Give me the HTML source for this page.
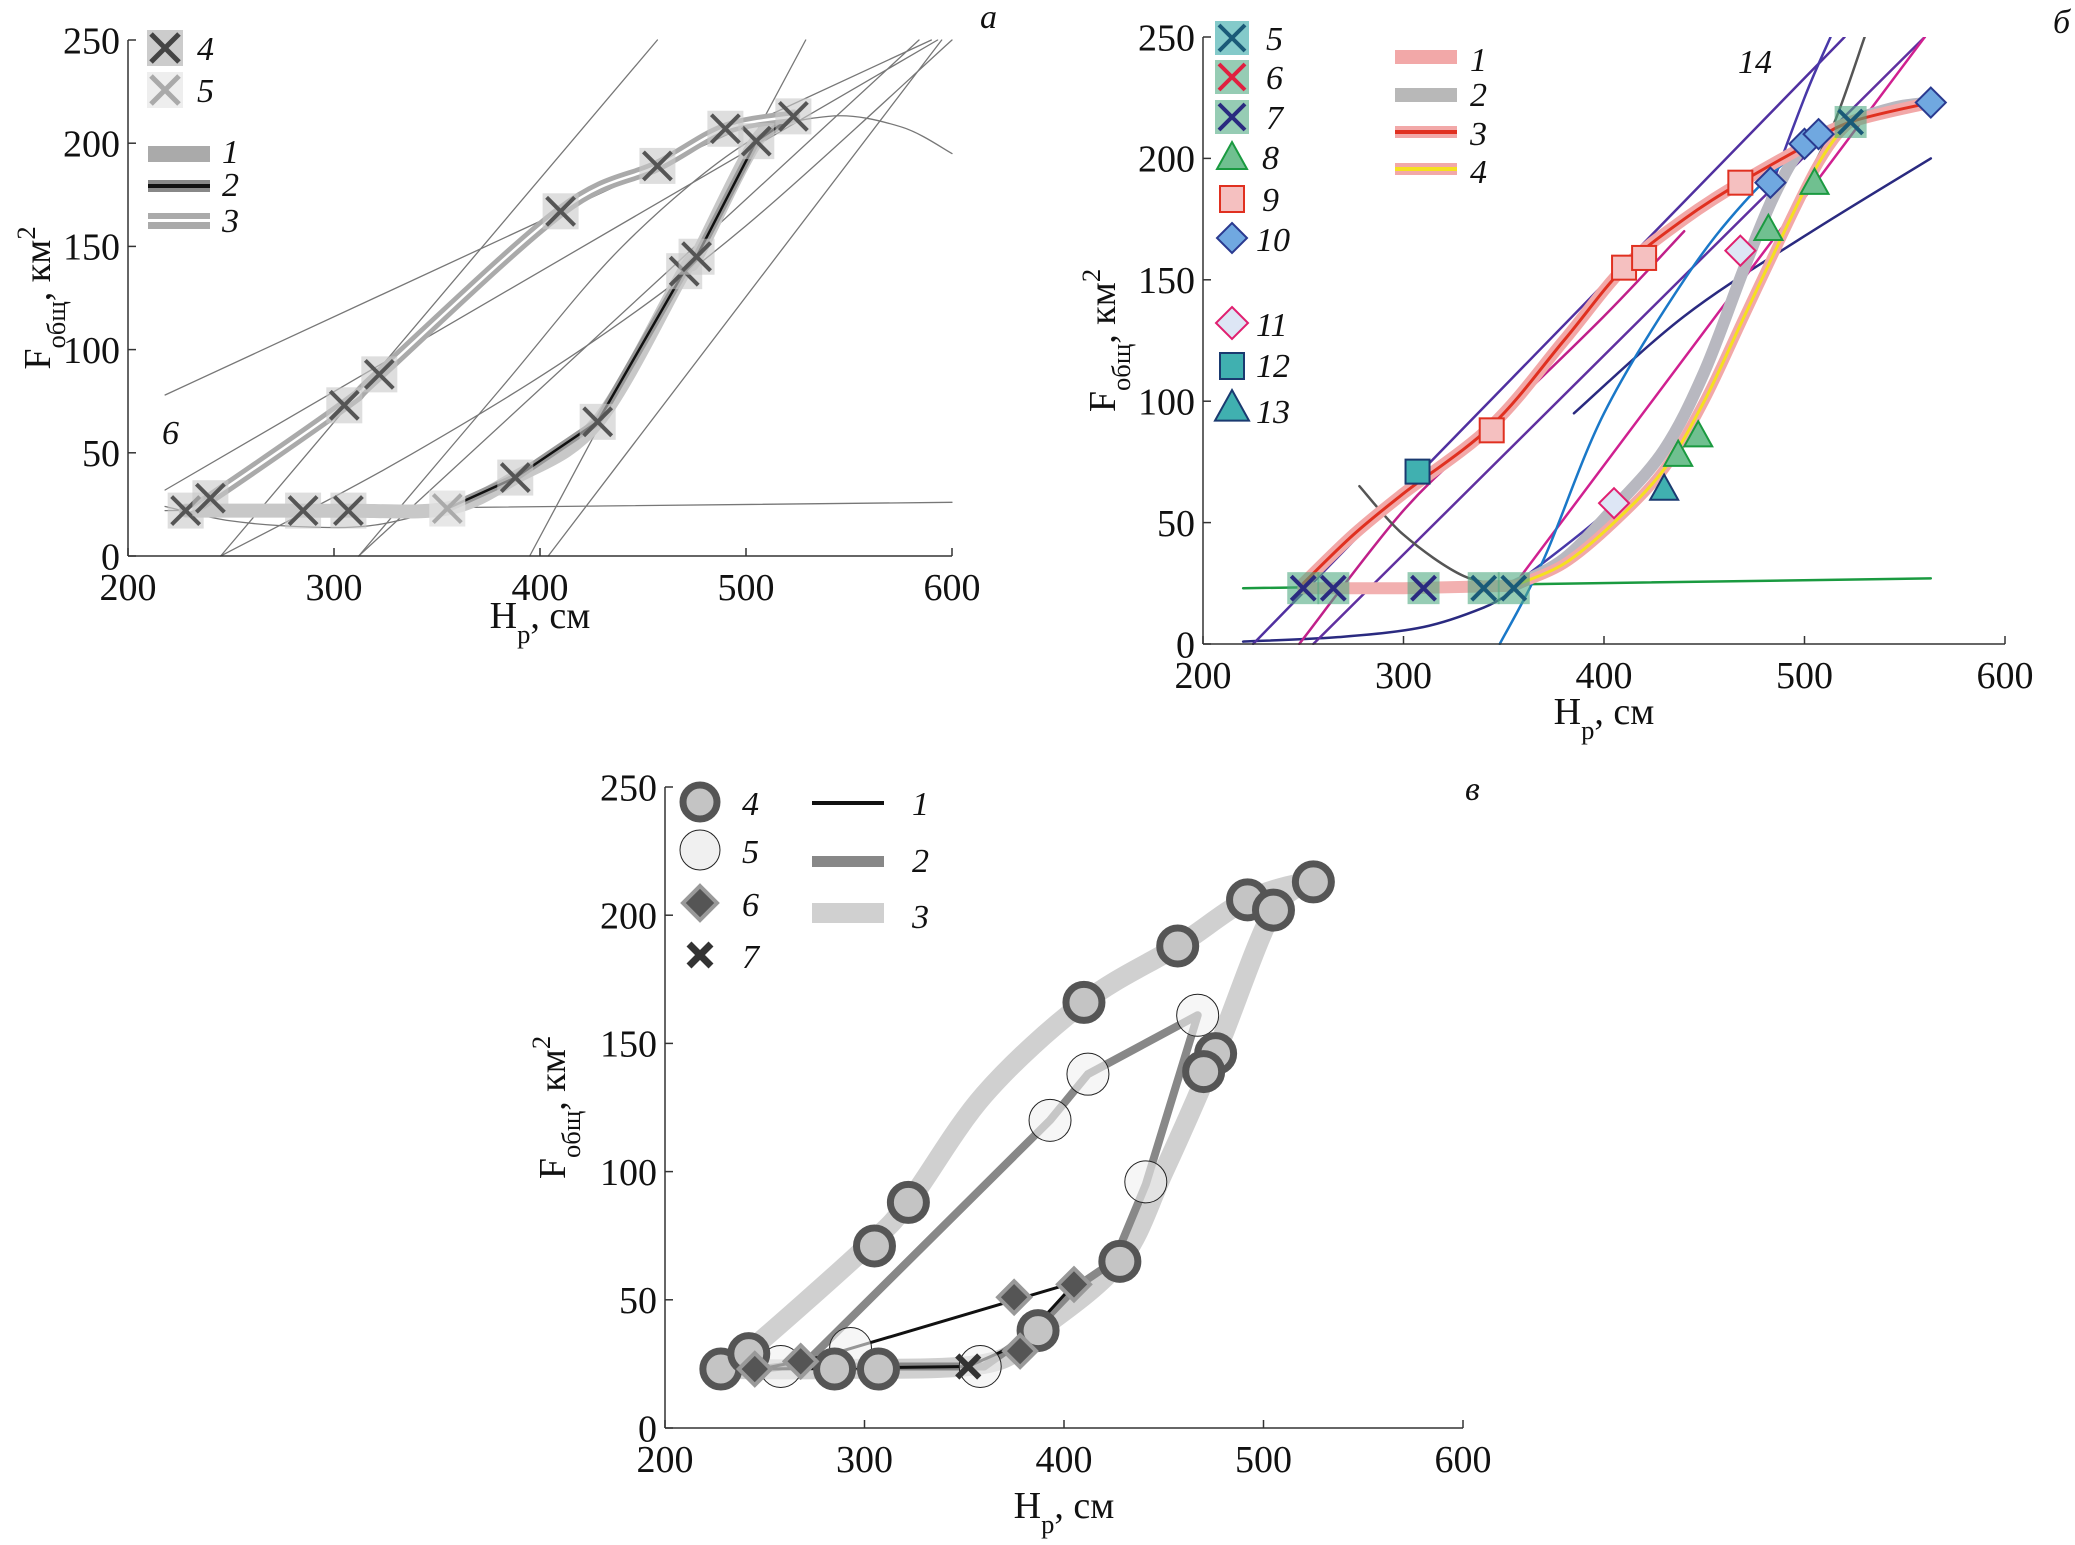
<!DOCTYPE html>
<html><head><meta charset="utf-8">
<style>
html,body{margin:0;padding:0;background:#fff;}
svg{display:block;font-family:"Liberation Serif",serif;}
</style></head>
<body>
<svg id="chart" width="2075" height="1545" viewBox="0 0 2075 1545" xmlns="http://www.w3.org/2000/svg">
<rect width="2075" height="1545" fill="#fff"/>
</svg>
<script>
// ---------- shared tick data ----------
const xTicks = [200, 300, 400, 500, 600];
const yTicks = [0, 50, 100, 150, 200, 250];

// ---------- panel a data ----------
const aUpperH = [228, 240, 305, 322, 410, 457, 490, 523];
const aUpperF = [22, 28, 73, 88, 167, 189, 207, 213];
const aLowerH = [228, 285, 307, 355, 388, 428, 470, 476, 505, 523];
const aLowerF = [22, 22, 22, 23, 38, 65, 138, 145, 201, 213];
const aDarkH = [228, 240, 285, 307, 388, 428, 470, 476, 505, 523, 305, 322, 410, 457, 490];
const aDarkF = [22, 28, 22, 22, 38, 65, 138, 145, 201, 213, 73, 88, 167, 189, 207];
const aLightH = [355];
const aLightF = [23];
const aThin1H = [218, 590]; const aThin1F = [78, 250];
const aThin2H = [218, 593]; const aThin2F = [32, 250];
const aThin3H = [245, 457]; const aThin3F = [0, 250];
const aThin4H = [395, 529]; const aThin4F = [0, 250];
const aThin5H = [404, 595]; const aThin5F = [0, 250];
const aThin6H = [312, 584]; const aThin6F = [0, 250];
const aThin7H = [218, 600]; const aThin7F = [22, 26];
const aParab1H = [218, 250, 290, 320, 355]; const aParab1F = [24, 17, 14, 15, 23];
const aParab2H = [312, 380, 440, 500, 540, 575, 600]; const aParab2F = [0, 80, 150, 200, 213, 208, 195];
const aParab3H = [245, 330, 420, 500, 600]; const aParab3F = [0, 45, 100, 160, 250];

// ---------- panel b data ----------
const bXH = [250, 265, 310, 340, 355, 523];
const bXF = [23, 23, 23, 23, 23, 215];
const bSqH = [344, 410, 420, 468];
const bSqF = [88, 155, 159, 190];
const bSq12H = [307]; const bSq12F = [71];
const bDiaH = [483, 500, 507, 563]; const bDiaF = [190, 206, 210, 223];
const bDia11H = [405, 468]; const bDia11F = [58, 162];
const bTriH = [437, 447, 482, 505]; const bTriF = [78, 86, 171, 190];
const bTri13H = [430]; const bTri13F = [64];
const bC1H = [250, 275, 300, 344, 380, 410, 440, 468, 500, 523, 563];
const bC1F = [25, 45, 62, 90, 125, 155, 175, 190, 205, 215, 223];
const bFlatH = [250, 300, 355]; const bFlatF = [23, 23, 24];
const bC2H = [355, 380, 405, 430, 450, 470, 485, 500, 523, 545, 563];
const bC2F = [24, 35, 56, 80, 112, 155, 185, 205, 215, 221, 223];
const bC4H = [355, 380, 405, 430, 450, 470, 490, 505, 515, 523];
const bC4F = [24, 33, 50, 72, 100, 135, 170, 195, 208, 215];
const bGreenH = [220, 563]; const bGreenF = [23, 27];
const bNavyH = [220, 270, 310, 340, 355]; const bNavyF = [1, 3, 7, 15, 22];
const bNavy2H = [385, 440, 500, 563]; const bNavy2F = [95, 135, 168, 200];
const bPurp1H = [225, 520]; const bPurp1F = [0, 250];
const bPurp2H = [355, 420, 460, 480, 500, 513]; const bPurp2F = [24, 70, 130, 180, 225, 250];
const bMag1H = [248, 300, 344, 400, 440]; const bMag1F = [0, 55, 90, 135, 170];
const bMag2H = [255, 560]; const bMag2F = [0, 250];
const bMag3H = [355, 560]; const bMag3F = [24, 250];
const bBlueH = [348, 370, 400, 440, 470, 500, 523]; const bBlueF = [0, 35, 95, 150, 182, 205, 215];
const bGrayH = [278, 300, 330, 355]; const bGrayF = [65, 45, 28, 24];
const bGray2H = [500, 515, 530]; const bGray2F = [190, 215, 250];

// ---------- panel c data ----------
const c4H = [228, 242, 285, 307, 305, 322, 410, 457, 492, 505, 525, 476, 470, 428, 387];
const c4F = [23, 29, 23, 23, 71, 88, 166, 188, 206, 202, 213, 146, 139, 65, 38];
const c5H = [258, 293, 358, 393, 412, 467, 441];
const c5F = [24, 31, 24, 120, 138, 161, 96];
const c6H = [245, 268, 375, 405, 378];
const c6F = [23, 26, 51, 56, 30];
const c7H = [352]; const c7F = [24];
const cL1H = [248, 352, 378, 406, 280, 248];
const cL1F = [23, 24, 33, 57, 28, 23];
const cL2H = [248, 270, 393, 412, 467, 441, 425, 406, 385, 360, 258];
const cL2F = [23, 25, 120, 138, 161, 95, 65, 55, 38, 24, 24];
const cL3H = [228, 242, 300, 322, 360, 410, 457, 492, 525, 505, 476, 450, 428, 387, 360, 285, 228];
const cL3F = [23, 30, 70, 88, 130, 166, 188, 206, 213, 202, 146, 100, 65, 38, 25, 23, 23];

const NS = "http://www.w3.org/2000/svg";
const svg = document.getElementById("chart");

function mk(tag, attrs, parent) {
  const e = document.createElementNS(NS, tag);
  for (const k in attrs) e.setAttribute(k, attrs[k]);
  (parent || svg).appendChild(e);
  return e;
}
function axes(px0, px1, py0, py1) {
  return {
    x: h => px0 + (h - 200) / 400 * (px1 - px0),
    y: f => py0 + f / 250 * (py1 - py0)
  };
}
function pathStr(s, H, F, smooth) {
  const pts = H.map((h, i) => [s.x(h), s.y(F[i])]);
  if (!smooth || pts.length < 3) return "M" + pts.map(p => p[0].toFixed(1) + "," + p[1].toFixed(1)).join(" L");
  let d = "M" + pts[0][0] + "," + pts[0][1];
  for (let i = 0; i < pts.length - 1; i++) {
    const p0 = pts[i - 1] || pts[i], p1 = pts[i], p2 = pts[i + 1], p3 = pts[i + 2] || p2;
    const c1x = p1[0] + (p2[0] - p0[0]) / 6, c1y = p1[1] + (p2[1] - p0[1]) / 6;
    const c2x = p2[0] - (p3[0] - p1[0]) / 6, c2y = p2[1] - (p3[1] - p1[1]) / 6;
    d += " C" + c1x + "," + c1y + " " + c2x + "," + c2y + " " + p2[0] + "," + p2[1];
  }
  return d;
}
function line(g, s, H, F, stroke, w, smooth, name) {
  const p = mk("path", {d: pathStr(s, H, F, smooth), fill: "none", stroke: stroke, "stroke-width": w, "stroke-linejoin": "round", "stroke-linecap": "round"}, g);
  
  
  return p;
}
function xmark(g, cx, cy, r, stroke, w, bg, name) {
  const grp = mk("g", {}, g);
  
  
  if (bg) mk("rect", {x: cx - r - 4, y: cy - r - 4, width: 2 * r + 8, height: 2 * r + 8, fill: bg}, grp);
  mk("path", {d: `M${cx-r},${cy-r} L${cx+r},${cy+r} M${cx-r},${cy+r} L${cx+r},${cy-r}`, stroke: stroke, "stroke-width": w, fill: "none"}, grp);
  return grp;
}
function drawAxes(g, s, px0, px1, py0, py1, fs, xlabY, ylabX, name) {
  const ax = mk("g", {}, g);
  
  
  mk("line", {x1: px0, y1: py0, x2: px1, y2: py0, stroke: "#333", "stroke-width": 1.5}, ax);
  mk("line", {x1: px0, y1: py0, x2: px0, y2: py1, stroke: "#333", "stroke-width": 1.5}, ax);
  xTicks.forEach(t => {
    mk("line", {x1: s.x(t), y1: py0, x2: s.x(t), y2: py0 - 8, stroke: "#333", "stroke-width": 1.5}, ax);
    const tx = mk("text", {x: s.x(t), y: py0 + fs + 6, "font-size": fs, "text-anchor": "middle", fill: "#111"}, ax);
    tx.textContent = t;
    
    
  });
  yTicks.forEach(t => {
    mk("line", {x1: px0, y1: s.y(t), x2: px0 + 8, y2: s.y(t), stroke: "#333", "stroke-width": 1.5}, ax);
    const tx = mk("text", {x: px0 - 8, y: s.y(t) + fs * 0.35, "font-size": fs, "text-anchor": "end", fill: "#111"}, ax);
    tx.textContent = t;
    
    
  });
  const xl = mk("text", {x: (px0 + px1) / 2, y: xlabY, "font-size": fs, "text-anchor": "middle", fill: "#111"}, ax);
  xl.innerHTML = 'H<tspan baseline-shift="sub" font-size="' + (fs * 0.7) + '">р</tspan>, см';
  
  
  const cy = (py0 + py1) / 2;
  const yl = mk("text", {x: ylabX, y: cy, "font-size": fs, "text-anchor": "middle", fill: "#111", transform: `rotate(-90 ${ylabX} ${cy})`}, ax);
  yl.innerHTML = 'F<tspan baseline-shift="sub" font-size="' + (fs * 0.7) + '">общ</tspan>, км<tspan baseline-shift="super" font-size="' + (fs * 0.7) + '">2</tspan>';
  
  
}
function label(g, x, y, txt, fs, name, italic) {
  const t = mk("text", {x: x, y: y, "font-size": fs, fill: "#111", "font-style": italic === false ? "normal" : "italic"}, g);
  t.textContent = txt;
  
  
  return t;
}

// ================= PANEL A =================
(function () {
  const g = mk("g", {});
  
  
  const s = axes(128, 952, 556, 40);
  const clip = mk("clipPath", {id: "ca"}, g);
  mk("rect", {x: 128, y: 38, width: 826, height: 520}, clip);
  const lines = mk("g", {"clip-path": "url(#ca)"}, g);
  const thin = "#777";
  [[aThin1H, aThin1F], [aThin2H, aThin2F], [aThin3H, aThin3F], [aThin4H, aThin4F], [aThin5H, aThin5F], [aThin6H, aThin6F], [aThin7H, aThin7F]].forEach(a => line(lines, s, a[0], a[1], thin, 1.3, false, 'fit-line'));
  line(lines, s, aParab1H, aParab1F, thin, 1.3, true, 'parabola-6');
  line(lines, s, aParab2H, aParab2F, thin, 1.3, true, 'parabola-fit');
  line(lines, s, aParab3H, aParab3F, thin, 1.3, true, 'curve-fit');
  line(lines, s, aLowerH, aLowerF, "#c8c8c8", 14, true, 'series-lower-band');
  line(lines, s, aLowerH.slice(3), aLowerF.slice(3), "#999", 8, false, 'series-2-band');
  line(lines, s, aLowerH.slice(3), aLowerF.slice(3), "#111", 2.5, false, 'series-2-line');
  line(lines, s, aUpperH, aUpperF, "#aaa", 12, true, 'series-1');
  line(lines, s, aUpperH, aUpperF, "#fff", 2.5, true, 'series-3');
  aDarkH.forEach((h, i) => xmark(g, s.x(h), s.y(aDarkF[i]), 14, "#555", 4, "rgba(200,200,200,0.6)", 'marker-4'));
  aLightH.forEach((h, i) => xmark(g, s.x(h), s.y(aLightF[i]), 14, "#aaa", 4, "rgba(225,225,225,0.8)", 'marker-5'));
  drawAxes(g, s, 128, 952, 556, 40, 38, 628, 50, 'panel-a');
  xmark(g, 165, 48, 14, "#444", 5, "#ccc", 'legend-4-marker'); label(g, 197, 60, "4", 34, 'legend-4');
  xmark(g, 165, 90, 14, "#aaa", 5, "#eee", 'legend-5-marker'); label(g, 197, 102, "5", 34, 'legend-5');
  mk("rect", {x: 148, y: 146, width: 62, height: 16, fill: "#aaa"}, g); label(g, 222, 163, "1", 34, 'legend-1');
  mk("rect", {x: 148, y: 180, width: 62, height: 12, fill: "#888"}, g); mk("rect", {x: 148, y: 184, width: 62, height: 4, fill: "#111"}, g); label(g, 222, 196, "2", 34, 'legend-2');
  mk("rect", {x: 148, y: 213, width: 62, height: 16, fill: "#aaa"}, g); mk("rect", {x: 148, y: 219, width: 62, height: 3, fill: "#fff"}, g); label(g, 222, 232, "3", 34, 'legend-3');
  label(g, 162, 444, "6", 34, 'curve-6-label');
  label(g, 980, 28, "а", 34, 'panel-a-letter');
})();

// ================= PANEL B =================
(function () {
  const g = mk("g", {});
  
  
  const s = axes(1203, 2005, 644, 37);
  const clip = mk("clipPath", {id: "cb"}, g);
  mk("rect", {x: 1203, y: 37, width: 804, height: 608}, clip);
  const L = mk("g", {"clip-path": "url(#cb)"}, g);
  line(L, s, bGreenH, bGreenF, "#1a9a40", 2.5, false, 'green-fit');
  line(L, s, bNavyH, bNavyF, "#2a2a80", 2.5, true, 'navy-fit');
  line(L, s, bNavy2H, bNavy2F, "#2a2a80", 2.5, true, 'navy-fit-upper');
  line(L, s, bPurp1H, bPurp1F, "#5030a0", 2.5, false, 'purple-fit-14');
  line(L, s, bPurp2H, bPurp2F, "#4838a8", 2.5, true, 'purple-steep-fit');
  line(L, s, bMag1H, bMag1F, "#c0208a", 2.5, true, 'magenta-fit-1');
  line(L, s, bMag2H, bMag2F, "#6030a0", 2.5, false, 'magenta-fit-2');
  line(L, s, bMag3H, bMag3F, "#d02090", 2.5, false, 'magenta-fit-3');
  line(L, s, bBlueH, bBlueF, "#1a78c8", 2.5, true, 'blue-fit');
  line(L, s, bGrayH, bGrayF, "#555", 2.5, true, 'gray-fit');
  line(L, s, bGray2H, bGray2F, "#555", 2.5, true, 'gray-fit-2');
  line(L, s, bC2H, bC2F, "#b8b8c0", 12, true, 'series-2');
  line(L, s, bC4H, bC4F, "#f2a8a8", 10, true, 'series-4-band');
  line(L, s, bC4H, bC4F, "#f5e020", 3, true, 'series-4');
  line(L, s, bFlatH, bFlatF, "#f2b0b0", 12, false, 'series-1-flat');
  line(L, s, bC1H, bC1F, "#f2a8a8", 12, true, 'series-1');
  line(L, s, bC1H, bC1F, "#e03020", 3, true, 'series-3');
  bXH.forEach((h, i) => xmark(g, s.x(h), s.y(bXF[i]), 12, i < 3 ? "#2a2a80" : "#1a5a78", 4, "rgba(80,170,130,0.6)", 'marker-x'));
  bSqH.forEach((h, i) => { const r = mk("rect", {x: s.x(h) - 12, y: s.y(bSqF[i]) - 12, width: 24, height: 24, fill: "#f5c0c0", stroke: "#e03020", "stroke-width": 2}, g);   });
  bSq12H.forEach((h, i) => { const r = mk("rect", {x: s.x(h) - 12, y: s.y(bSq12F[i]) - 12, width: 24, height: 24, fill: "#40b0b0", stroke: "#1a3a70", "stroke-width": 2}, g);   });
  const dia = (cx, cy, r) => `M${cx},${cy-r} L${cx+r},${cy} L${cx},${cy+r} L${cx-r},${cy} Z`;
  const tri = (cx, cy, r) => `M${cx},${cy-r} L${cx+r},${cy+r*0.8} L${cx-r},${cy+r*0.8} Z`;
  bDiaH.forEach((h, i) => { const p = mk("path", {d: dia(s.x(h), s.y(bDiaF[i]), 15), fill: "#70a8e0", stroke: "#2a3a90", "stroke-width": 2}, g);   });
  bDia11H.forEach((h, i) => { const p = mk("path", {d: dia(s.x(h), s.y(bDia11F[i]), 15), fill: "#dde6f5", stroke: "#e02070", "stroke-width": 2}, g);   });
  bTriH.forEach((h, i) => { const p = mk("path", {d: tri(s.x(h), s.y(bTriF[i]), 14), fill: "#70c090", stroke: "#1a9a40", "stroke-width": 2}, g);   });
  bTri13H.forEach((h, i) => { const p = mk("path", {d: tri(s.x(h), s.y(bTri13F[i]), 14), fill: "#40b0b0", stroke: "#1a3a70", "stroke-width": 2}, g);   });
  drawAxes(g, s, 1203, 2005, 644, 37, 38, 724, 1115, 'panel-b');
  const lx = 1232, fs = 34;
  const leg = [["5", 38, "x", "#1a5a78", "rgba(80,180,180,0.7)"], ["6", 77, "x", "#e02040", "rgba(80,170,130,0.6)"], ["7", 117, "x", "#2a2a80", "rgba(80,170,130,0.6)"]];
  leg.forEach(l => { xmark(g, lx, l[1], 13, l[3], 4, l[4], 'legend-' + l[0] + '-marker'); label(g, lx + 34, l[1] + 12, l[0], fs, 'legend-' + l[0]); });
  mk("path", {d: tri(lx, 157, 15), fill: "#70c090", stroke: "#1a9a40", "stroke-width": 2}, g); label(g, lx + 30, 169, "8", fs, 'legend-8');
  mk("rect", {x: lx - 12, y: 186, width: 24, height: 26, fill: "#f5c0c0", stroke: "#e03020", "stroke-width": 2}, g); label(g, lx + 30, 211, "9", fs, 'legend-9');
  mk("path", {d: dia(lx, 238, 15), fill: "#70a8e0", stroke: "#2a3a90", "stroke-width": 2}, g); label(g, lx + 24, 251, "10", fs, 'legend-10');
  mk("path", {d: dia(lx, 323, 16), fill: "#dde6f5", stroke: "#e02070", "stroke-width": 2}, g); label(g, lx + 24, 336, "11", fs, 'legend-11');
  mk("rect", {x: lx - 12, y: 353, width: 24, height: 26, fill: "#40b0b0", stroke: "#1a3a70", "stroke-width": 2}, g); label(g, lx + 24, 377, "12", fs, 'legend-12');
  mk("path", {d: tri(lx, 407, 17), fill: "#40b0b0", stroke: "#1a3a70", "stroke-width": 2}, g); label(g, lx + 24, 423, "13", fs, 'legend-13');
  const l2x = 1395;
  mk("rect", {x: l2x, y: 50, width: 62, height: 14, fill: "#f2a8a8"}, g); label(g, l2x + 75, 71, "1", fs, 'legend-b-1');
  mk("rect", {x: l2x, y: 88, width: 62, height: 14, fill: "#b8b8b8"}, g); label(g, l2x + 75, 106, "2", fs, 'legend-b-2');
  mk("rect", {x: l2x, y: 126, width: 62, height: 12, fill: "#f2a8a8"}, g); mk("rect", {x: l2x, y: 130, width: 62, height: 4, fill: "#e03020"}, g); label(g, l2x + 75, 145, "3", fs, 'legend-b-3');
  mk("rect", {x: l2x, y: 163, width: 62, height: 12, fill: "#f2a8a8"}, g); mk("rect", {x: l2x, y: 167, width: 62, height: 4, fill: "#f5e020"}, g); label(g, l2x + 75, 183, "4", fs, 'legend-b-4');
  label(g, 1738, 73, "14", fs, 'curve-14-label');
  label(g, 2053, 33, "б", 34, 'panel-b-letter');
})();

// ================= PANEL C =================
(function () {
  const g = mk("g", {});
  
  
  const s = axes(665, 1463, 1428, 787);
  line(g, s, cL3H, cL3F, "#d0d0d0", 20, true, 'series-3');
  line(g, s, cL2H, cL2F, "#888", 8, false, 'series-2');
  line(g, s, cL1H, cL1F, "#111", 3, false, 'series-1');
  c5H.forEach((h, i) => { const c = mk("circle", {cx: s.x(h), cy: s.y(c5F[i]), r: 21, fill: "rgba(240,240,240,0.6)", stroke: "#222", "stroke-width": 1}, g);   });
  c4H.forEach((h, i) => { const c = mk("circle", {cx: s.x(h), cy: s.y(c4F[i]), r: 18, fill: "#c4c4c4", stroke: "#555", "stroke-width": 7}, g);   });
  const dia = (cx, cy, r) => `M${cx},${cy-r} L${cx+r},${cy} L${cx},${cy+r} L${cx-r},${cy} Z`;
  c6H.forEach((h, i) => { const p = mk("path", {d: dia(s.x(h), s.y(c6F[i]), 16), fill: "#555", stroke: "#999", "stroke-width": 4}, g);   });
  c7H.forEach((h, i) => xmark(g, s.x(h), s.y(c7F[i]), 11, "#333", 6, null, 'marker-7'));
  drawAxes(g, s, 665, 1463, 1428, 787, 38, 1518, 565, 'panel-c');
  const lx = 700, fs = 34;
  mk("circle", {cx: lx, cy: 802, r: 17, fill: "#c4c4c4", stroke: "#555", "stroke-width": 7}, g); label(g, lx + 42, 815, "4", fs, 'legend-c-4');
  mk("circle", {cx: lx, cy: 850, r: 20, fill: "#f0f0f0", stroke: "#222", "stroke-width": 1}, g); label(g, lx + 42, 863, "5", fs, 'legend-c-5');
  mk("path", {d: dia(lx, 903, 17), fill: "#555", stroke: "#999", "stroke-width": 4}, g); label(g, lx + 42, 916, "6", fs, 'legend-c-6');
  xmark(g, lx, 955, 11, "#333", 7, null, 'legend-c-7-marker'); label(g, lx + 42, 968, "7", fs, 'legend-c-7');
  mk("rect", {x: 812, y: 801, width: 72, height: 4, fill: "#111"}, g); label(g, 912, 815, "1", fs, 'legend-c-1');
  mk("rect", {x: 812, y: 856, width: 72, height: 11, fill: "#888"}, g); label(g, 912, 872, "2", fs, 'legend-c-2');
  mk("rect", {x: 812, y: 903, width: 72, height: 20, fill: "#d0d0d0"}, g); label(g, 912, 928, "3", fs, 'legend-c-3');
  label(g, 1465, 800, "в", 34, 'panel-c-letter');
})();
</script>
</body></html>
